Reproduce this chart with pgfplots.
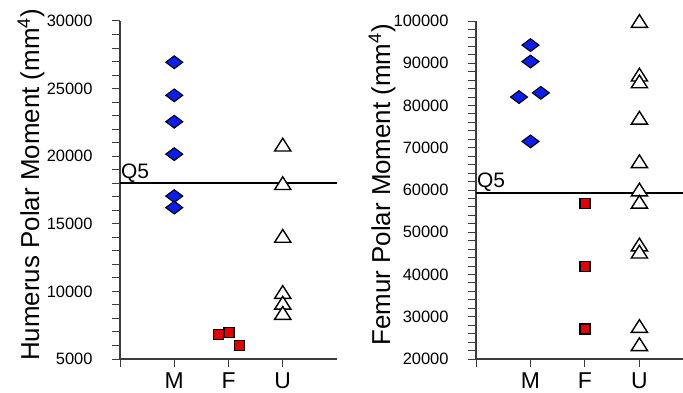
\documentclass[border=0pt]{standalone}
\usepackage{fontspec}
\setmainfont{Liberation Sans}
\usepackage{pgfplots}
\pgfplotsset{compat=1.18}
\definecolor{mblue}{RGB}{10,30,240}
\definecolor{fred}{RGB}{230,0,0}
\definecolor{axgray}{RGB}{60,60,60}
\pgfplotsset{
  myaxis/.style={
    scale only axis, height=338bp,
    xmin=0,
    axis lines=left, axis line style={-, axgray, line width=1.1bp},
    tick align=outside, major tick length=8bp, minor tick length=8bp,
    tick style={axgray, line width=1bp},
    xtick={0,1,2,3}, xticklabels={,M,F,U},
    xticklabel style={font=\fontsize{23}{25}\selectfont, yshift=-2bp},
    yticklabel style={font=\fontsize{16.5}{18}\selectfont, xshift=-16bp},
    /pgf/number format/fixed,
    /pgf/number format/assume math mode=true,
    /pgf/number format/1000 sep={},
    scaled y ticks=false,
    minor y tick num=4,
    ylabel style={font=\fontsize{26}{28}\selectfont, anchor=center},
    clip=false,
  },
  dia/.style={only marks, mark=diamond*, mark size=8.5bp, mark options={rotate=90, fill=mblue, draw=black, line width=1.1bp}},
  sq/.style={only marks, mark=square*, mark size=5bp, mark options={fill=fred, draw=black, line width=1.1bp}},
  tri/.style={only marks, mark=triangle*, mark size=8.5bp, mark options={fill=white, draw=black, line width=1.4bp, xscale=1.1}},
}
\begin{document}
\begin{tikzpicture}
\path[use as bounding box] (0,0) rectangle (683bp,393bp);
\begin{axis}[myaxis, at={(120bp,34bp)}, anchor=south west,
  width=217bp, xmax=4, ymin=5000, ymax=30000,
  ytick={5000,10000,15000,20000,25000,30000},
  ylabel={Humerus Polar Moment (mm\textsuperscript{4})},
  ylabel style={at={(axis description cs:-0.41,0.515)}}]
\addplot[black, line width=2bp] coordinates {(0,18000) (4,18000)};
\node[anchor=south west, inner sep=1bp, font=\fontsize{21}{22}\selectfont] at (axis cs:0,18000) {Q5};
\addplot[dia] coordinates {(1,26950) (1,24500) (1,22550) (1,20150) (1,17050) (1,16200)};
\addplot[sq] coordinates {(1.81,6800) (2.01,6950) (2.21,6000)};
\addplot[tri] coordinates {(3,20700) (3,17850) (3,13950) (3,9800) (3,9000) (3,8250)};
\end{axis}
\begin{axis}[myaxis, at={(476bp,34bp)}, anchor=south west,
  width=207bp, xmax=3.8, ymin=20000, ymax=100000,
  ytick={20000,30000,40000,50000,60000,70000,80000,90000,100000},
  ylabel={Femur Polar Moment (mm\textsuperscript{4})},
  ylabel style={at={(axis description cs:-0.454,0.515)}}]
\addplot[black, line width=2bp] coordinates {(0,59400) (3.8,59400)};
\node[anchor=south west, inner sep=1bp, font=\fontsize{21}{22}\selectfont] at (axis cs:0,59400) {Q5};
\addplot[dia] coordinates {(1,94300) (1,90400) (0.79,82000) (1.19,83000) (1,71500)};
\addplot[sq] coordinates {(2,56700) (2,41900) (2,27100)};
\addplot[tri] coordinates {(3,99500) (3,86800) (3,85200) (3,76600) (3,66300) (3,59600) (3,56700) (3,46600) (3,44900) (3,27300) (3,23000)};
\end{axis}
\end{tikzpicture}
\end{document}
